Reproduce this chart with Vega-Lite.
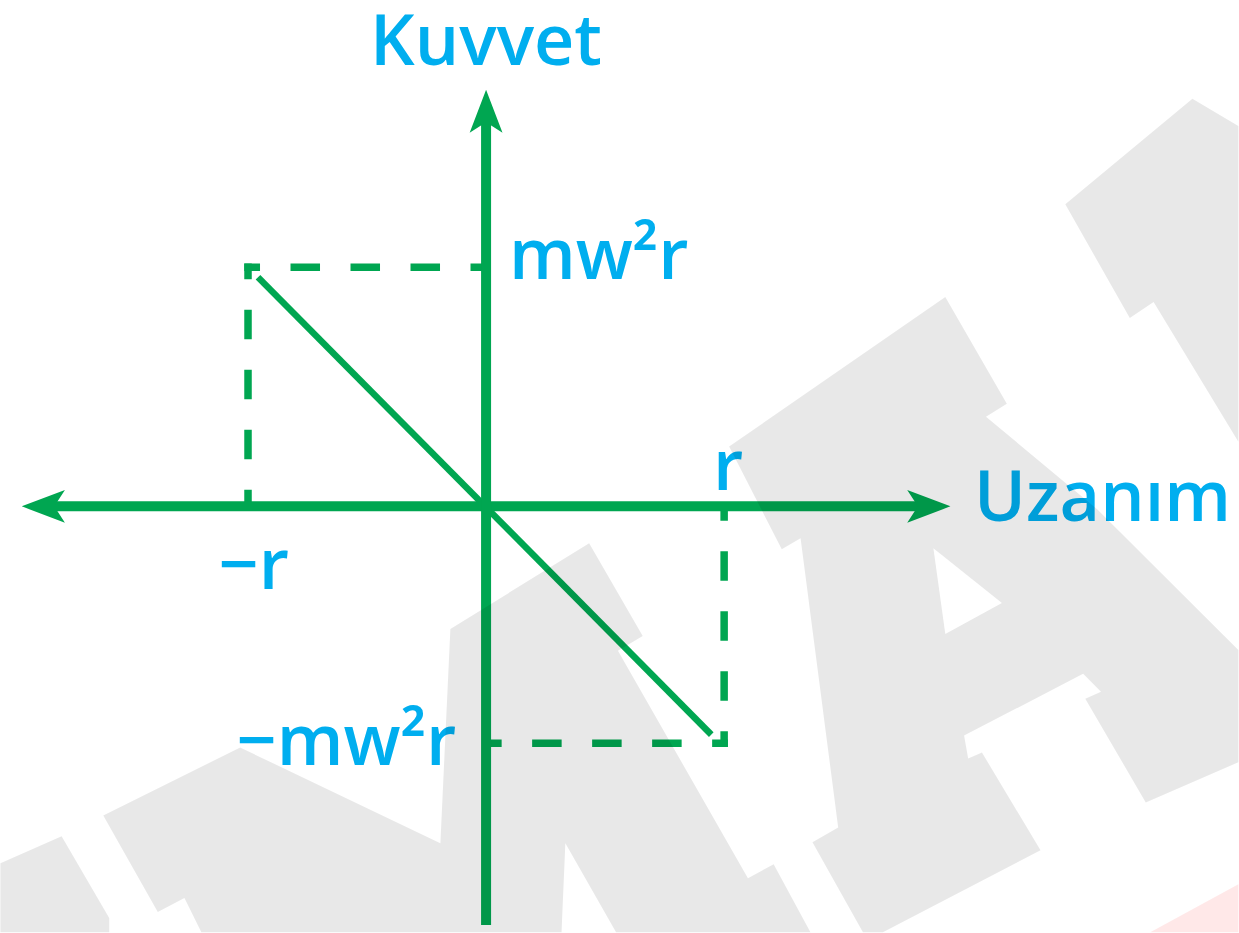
{
  "$schema": "https://vega.github.io/schema/vega-lite/v6.json",
  "width": 1239,
  "height": 933,
  "autosize": {"type": "fit", "contains": "padding"},
  "padding": 0,
  "background": "white",
  "config": {"view": {"stroke": null}},
  "datasets": {
    "dash": [
      {"x": -1, "y": 1, "x2": 0, "y2": 1},
      {"x": -1, "y": 1, "x2": -1, "y2": 0},
      {"x": 1, "y": -0.99, "x2": 1, "y2": 0},
      {"x": 1, "y": -0.99, "x2": 0, "y2": -0.99}
    ],
    "diag": [{"x": -0.958, "y": 0.958, "x2": 0.946, "y2": -0.954}],
    "axes": [
      {"x": -1.85, "y": 0, "x2": 1.85, "y2": 0},
      {"x": 0, "y": -1.75, "x2": 0, "y2": 1.64}
    ],
    "arrows": [
      {"x": 0, "y": 1.648, "dir": "up"},
      {"x": 1.856, "y": 0, "dir": "right"},
      {"x": -1.856, "y": 0, "dir": "left"}
    ],
    "lab_c": [
      {"x": 0, "y": 1.846, "t": "Kuvvet"},
      {"x": -0.975, "y": -0.346, "t": "−r"},
      {"x": 1.017, "y": 0.067, "t": "r"}
    ],
    "lab_l": [
      {"x": 0.096, "y": 0.95, "t": "mw²r"},
      {"x": 2.05, "y": -0.0625, "t": "Uzanım"}
    ],
    "lab_r": [
      {"x": -0.125, "y": -1.083, "t": "−mw²r"}
    ],
    "wm": [
      {"p": "P1", "o": 0, "x": -2.04, "y": -1.492},
      {"p": "P1", "o": 1, "x": -1.783, "y": -1.379},
      {"p": "P1", "o": 2, "x": -1.583, "y": -1.721},
      {"p": "P1", "o": 3, "x": -1.583, "y": -1.78},
      {"p": "P1", "o": 4, "x": -2.04, "y": -1.78},
      {"p": "GA", "o": 0, "x": -1.608, "y": -1.292},
      {"p": "GA", "o": 1, "x": -1.033, "y": -1.008},
      {"p": "GA", "o": 2, "x": -0.192, "y": -1.408},
      {"p": "GA", "o": 3, "x": -0.15, "y": -0.5125},
      {"p": "GA", "o": 4, "x": 0.433, "y": -0.154},
      {"p": "GA", "o": 5, "x": 0.658, "y": -0.542},
      {"p": "GA", "o": 6, "x": 0.554, "y": -0.604},
      {"p": "GA", "o": 7, "x": 1.1, "y": -1.554},
      {"p": "GA", "o": 8, "x": 1.208, "y": -1.496},
      {"p": "GA", "o": 9, "x": 1.3625, "y": -1.78},
      {"p": "GA", "o": 10, "x": 0.546, "y": -1.78},
      {"p": "GA", "o": 11, "x": 0.333, "y": -1.408},
      {"p": "GA", "o": 12, "x": 0.317, "y": -1.78},
      {"p": "GA", "o": 13, "x": -1.196, "y": -1.78},
      {"p": "GA", "o": 14, "x": -1.267, "y": -1.6375},
      {"p": "GA", "o": 15, "x": -1.379, "y": -1.696},
      {"p": "GM", "o": 0, "x": 1.021, "y": 0.25},
      {"p": "GM", "o": 1, "x": 1.929, "y": 0.875},
      {"p": "GM", "o": 2, "x": 2.1875, "y": 0.429},
      {"p": "GM", "o": 3, "x": 2.1, "y": 0.375},
      {"p": "GM", "o": 4, "x": 2.567, "y": -0.0125},
      {"p": "GM", "o": 5, "x": 3.16, "y": -0.6},
      {"p": "GM", "o": 6, "x": 3.16, "y": -1.07},
      {"p": "GM", "o": 7, "x": 2.771, "y": -1.2375},
      {"p": "GM", "o": 8, "x": 2.517, "y": -0.804},
      {"p": "GM", "o": 9, "x": 2.583, "y": -0.775},
      {"p": "GM", "o": 10, "x": 2.508, "y": -0.7},
      {"p": "GM", "o": 11, "x": 2.008, "y": -0.958},
      {"p": "GM", "o": 12, "x": 2.025, "y": -1.054},
      {"p": "GM", "o": 13, "x": 2.083, "y": -1.029},
      {"p": "GM", "o": 14, "x": 2.329, "y": -1.4375},
      {"p": "GM", "o": 15, "x": 1.667, "y": -1.78},
      {"p": "GM", "o": 16, "x": 1.583, "y": -1.78},
      {"p": "GM", "o": 17, "x": 1.371, "y": -1.404},
      {"p": "GM", "o": 18, "x": 1.479, "y": -1.342},
      {"p": "GM", "o": 19, "x": 1.321, "y": -0.133},
      {"p": "GM", "o": 20, "x": 1.242, "y": -0.179},
      {"p": "GR", "o": 0, "x": 2.433, "y": 1.2625},
      {"p": "GR", "o": 1, "x": 2.967, "y": 1.704},
      {"p": "GR", "o": 2, "x": 3.16, "y": 1.59},
      {"p": "GR", "o": 3, "x": 3.16, "y": 0.27},
      {"p": "GR", "o": 4, "x": 2.804, "y": 0.854},
      {"p": "GR", "o": 5, "x": 2.704, "y": 0.7875}
    ],
    "hole": [
      {"p": "H", "o": 0, "x": 1.879, "y": -0.175},
      {"p": "H", "o": 1, "x": 2.167, "y": -0.404},
      {"p": "H", "o": 2, "x": 1.929, "y": -0.533}
    ],
    "pink": [
      {"p": "K", "o": 0, "x": 2.79, "y": -1.78},
      {"p": "K", "o": 1, "x": 3.16, "y": -1.58},
      {"p": "K", "o": 2, "x": 3.16, "y": -1.78}
    ]
  },
  "encoding": {
    "x": {"field": "x", "type": "quantitative", "scale": {"domain": [-2.0208, 3.1417], "nice": false, "zero": false}, "axis": null},
    "y": {"field": "y", "type": "quantitative", "scale": {"domain": [-1.7708, 2.1167], "nice": false, "zero": false}, "axis": null}
  },
  "layer": [
    {
      "data": {"name": "dash"},
      "mark": {"type": "rule", "color": "#00a651", "strokeWidth": 7.5, "strokeDash": [22, 38], "strokeDashOffset": 13.75, "strokeCap": "square"},
      "encoding": {"x2": {"field": "x2"}, "y2": {"field": "y2"}}
    },
    {
      "data": {"name": "diag"},
      "mark": {"type": "rule", "color": "#00a651", "strokeWidth": 6.5},
      "encoding": {"x2": {"field": "x2"}, "y2": {"field": "y2"}}
    },
    {
      "data": {"name": "axes"},
      "mark": {"type": "rule", "color": "#00a651", "strokeWidth": 10},
      "encoding": {"x2": {"field": "x2"}, "y2": {"field": "y2"}}
    },
    {
      "data": {"name": "arrows"},
      "transform": [{"filter": "datum.dir == 'up'"}],
      "mark": {"type": "point", "shape": "M0,-1 L0.73,0.92 L0,0.45 L-0.73,0.92 Z", "filled": true, "color": "#00a651", "opacity": 1, "size": 2025, "strokeWidth": 0, "angle": 0}
    },
    {
      "data": {"name": "arrows"},
      "transform": [{"filter": "datum.dir == 'right'"}],
      "mark": {"type": "point", "shape": "M0,-1 L0.73,0.92 L0,0.45 L-0.73,0.92 Z", "filled": true, "color": "#00a651", "opacity": 1, "size": 2025, "strokeWidth": 0, "angle": 90}
    },
    {
      "data": {"name": "arrows"},
      "transform": [{"filter": "datum.dir == 'left'"}],
      "mark": {"type": "point", "shape": "M0,-1 L0.73,0.92 L0,0.45 L-0.73,0.92 Z", "filled": true, "color": "#00a651", "opacity": 1, "size": 2025, "strokeWidth": 0, "angle": 270}
    },
    {
      "data": {"name": "lab_c"},
      "mark": {"type": "text", "align": "center", "baseline": "alphabetic", "font": "Open Sans", "fontWeight": 600, "fontSize": 70, "color": "#00aeef"},
      "encoding": {"text": {"field": "t"}}
    },
    {
      "data": {"name": "lab_l"},
      "mark": {"type": "text", "align": "left", "baseline": "alphabetic", "font": "Open Sans", "fontWeight": 600, "fontSize": 70, "color": "#00aeef"},
      "encoding": {"text": {"field": "t"}}
    },
    {
      "data": {"name": "lab_r"},
      "mark": {"type": "text", "align": "right", "baseline": "alphabetic", "font": "Open Sans", "fontWeight": 600, "fontSize": 70, "color": "#00aeef"},
      "encoding": {"text": {"field": "t"}}
    },
    {
      "data": {"name": "wm"},
      "mark": {"type": "line", "fill": "#000000", "fillOpacity": 0.09, "stroke": "#000000", "strokeOpacity": 0, "strokeWidth": 0},
      "encoding": {"order": {"field": "o", "type": "quantitative"}, "detail": {"field": "p", "type": "nominal"}}
    },
    {
      "data": {"name": "hole"},
      "mark": {"type": "line", "fill": "#ffffff", "fillOpacity": 1, "stroke": "#ffffff", "strokeOpacity": 0, "strokeWidth": 0},
      "encoding": {"order": {"field": "o", "type": "quantitative"}, "detail": {"field": "p", "type": "nominal"}}
    },
    {
      "data": {"name": "pink"},
      "mark": {"type": "line", "fill": "#ff0000", "fillOpacity": 0.09, "stroke": "#ff0000", "strokeOpacity": 0, "strokeWidth": 0},
      "encoding": {"order": {"field": "o", "type": "quantitative"}, "detail": {"field": "p", "type": "nominal"}}
    }
  ]
}
